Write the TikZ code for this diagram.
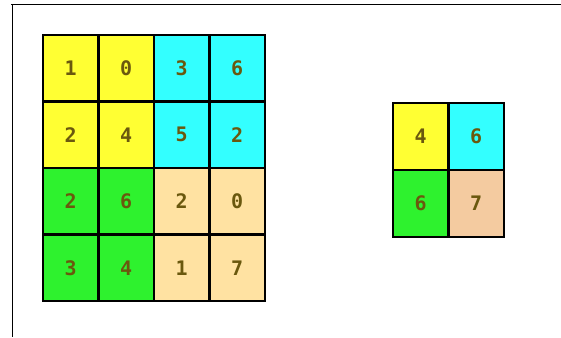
\documentclass[tikz,border=0pt]{standalone}
\usepackage{fontspec}
\newfontfamily\digitfont{DejaVu Sans Mono}
\definecolor{cellyellow}{HTML}{FFFF33}
\definecolor{cellcyan}{HTML}{33FFFF}
\definecolor{cellgreen}{HTML}{2EF22E}
\definecolor{cellwheat}{HTML}{FFE2A2}
\definecolor{cellpeach}{HTML}{F4CBA0}
\definecolor{digitcol}{HTML}{6A580E}

\begin{document}
\begin{tikzpicture}[x=1pt, y=-1pt,
  cell/.style={minimum width=55.5pt, minimum height=66.5pt, inner sep=0pt,
    text=digitcol, font=\digitfont\bfseries\fontsize{20}{20}\selectfont},
  cellline/.style={draw=black, line width=1.8pt}]
  \useasboundingbox (0,0) rectangle (561,337);
  % frame edges
  \draw[line width=1pt] (11,4.5) -- (561,4.5);
  \draw[line width=1pt] (12,4.5) -- (12,337);
  % input grid
  \foreach \c/\v/\f in {0/1/cellyellow, 1/0/cellyellow, 2/3/cellcyan, 3/6/cellcyan}
    \node[cell, fill=\f] (a0\c) at ({70.75+55.5*\c}, 68.25) {\v};
  \foreach \c/\v/\f in {0/2/cellyellow, 1/4/cellyellow, 2/5/cellcyan, 3/2/cellcyan}
    \node[cell, fill=\f] (a1\c) at ({70.75+55.5*\c}, 134.75) {\v};
  \foreach \c/\v/\f in {0/2/cellgreen, 1/6/cellgreen, 2/2/cellwheat, 3/0/cellwheat}
    \node[cell, fill=\f] (a2\c) at ({70.75+55.5*\c}, 201.25) {\v};
  \foreach \c/\v/\f in {0/3/cellgreen, 1/4/cellgreen, 2/1/cellwheat, 3/7/cellwheat}
    \node[cell, fill=\f] (a3\c) at ({70.75+55.5*\c}, 267.75) {\v};
  % pooled grid
  \node[cell, fill=cellyellow] (p00) at (420.75, 136.5) {4};
  \node[cell, fill=cellcyan] (p01) at (476.25, 136.5) {6};
  \node[cell, fill=cellgreen] (p10) at (420.75, 203.5) {6};
  \node[cell, fill=cellpeach] (p11) at (476.25, 203.5) {7};
  % cell borders on top
  \foreach \r in {0,...,3}
    \foreach \c in {0,...,3}
      \draw[cellline] (a\r\c.north west) rectangle (a\r\c.south east);
  \foreach \n in {p00,p01,p10,p11}
    \draw[cellline] (\n.north west) rectangle (\n.south east);
\end{tikzpicture}
\end{document}
